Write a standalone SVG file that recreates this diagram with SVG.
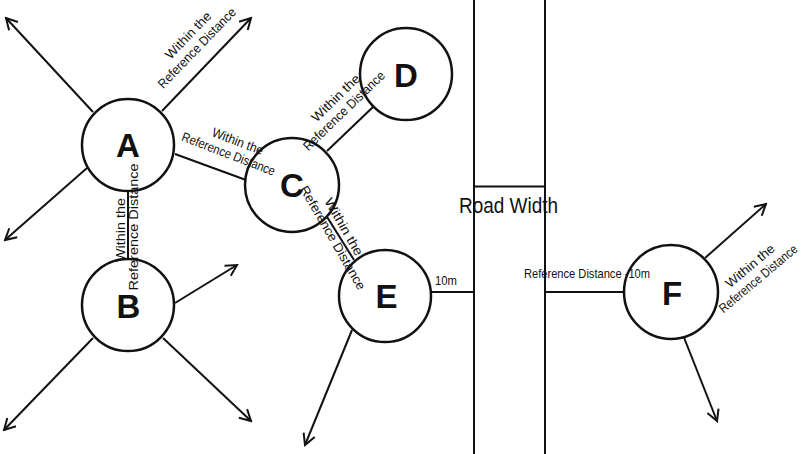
<svg xmlns="http://www.w3.org/2000/svg" width="812" height="454" viewBox="0 0 812 454">
<defs>
<style>
.node{fill:#fff;stroke:#111;stroke-width:2.5}
.ltr{font-family:"Liberation Sans",Arial,sans-serif;font-weight:bold;font-size:33px;fill:#111;text-anchor:middle}
.ln{stroke:#111;stroke-width:2;fill:none}
.arw{stroke:#111;stroke-width:2;fill:none;marker-end:url(#arr)}
.lbl{font-family:"Liberation Sans",Arial,sans-serif;font-size:13px;fill:#111;text-anchor:middle}
.road{stroke:#111;stroke-width:2;fill:none}
</style>
<marker id="arr" viewBox="0 0 14 14" refX="12" refY="7" markerWidth="14" markerHeight="14" markerUnits="userSpaceOnUse" orient="auto">
<path d="M1,1 L12,7 L1,13" stroke="#111" stroke-width="2" fill="none"/>
</marker>
</defs>
<rect width="812" height="454" fill="#fff"/>
<g id="road">
<line class="road" x1="474" y1="0" x2="474" y2="454"/>
<line class="road" x1="545" y1="0" x2="545" y2="454"/>
<line class="road" x1="474" y1="186.5" x2="545" y2="186.5"/>
<text x="459" y="213" font-family="Liberation Sans,Arial,sans-serif" font-size="22" fill="#111" textLength="99" lengthAdjust="spacingAndGlyphs">Road Width</text>
</g>
<g id="connectors">
<line class="arw" x1="93" y1="112" x2="6" y2="18"/>
<line class="arw" x1="162" y1="111" x2="251" y2="18"/>
<line class="arw" x1="87" y1="168" x2="5" y2="240"/>
<line class="ln" x1="128" y1="190" x2="128" y2="260"/>
<line class="ln" x1="175" y1="154" x2="246" y2="180"/>
<line class="arw" x1="175" y1="303" x2="237" y2="265"/>
<line class="arw" x1="93" y1="338" x2="4" y2="430"/>
<line class="arw" x1="163" y1="338" x2="251" y2="421"/>
<line class="ln" x1="327" y1="151" x2="373" y2="107"/>
<line class="ln" x1="324" y1="212" x2="354" y2="260"/>
<line class="arw" x1="352" y1="330" x2="305" y2="445"/>
<line class="ln" x1="432" y1="292" x2="474" y2="292"/>
<line class="ln" x1="545" y1="292" x2="625" y2="292"/>
<line class="arw" x1="705" y1="258" x2="766" y2="204"/>
<line class="arw" x1="683" y1="335" x2="717" y2="421"/>
</g>
<g id="node-A"><circle class="node" cx="128" cy="145" r="46"/><text class="ltr" x="128" y="157">A</text></g>
<g id="node-B"><circle class="node" cx="128" cy="305" r="46"/><text class="ltr" x="128.5" y="318">B</text></g>
<g id="node-C"><circle class="node" cx="292" cy="185" r="47"/><text class="ltr" x="292" y="197">C</text></g>
<g id="node-D"><circle class="node" cx="406" cy="74" r="46"/><text class="ltr" x="406" y="87">D</text></g>
<g id="node-E"><circle class="node" cx="385" cy="296" r="46"/><text class="ltr" x="386.5" y="308">E</text></g>
<g id="node-F"><circle class="node" cx="671" cy="292" r="47"/><text class="ltr" x="672" y="305">F</text></g>
<g id="labels">
<g transform="translate(200,51) rotate(-46)"><text class="lbl" x="3" y="-15" textLength="60" lengthAdjust="spacingAndGlyphs">Within the</text><text class="lbl" x="0" y="0" textLength="106" lengthAdjust="spacingAndGlyphs">Reference Distance</text></g>
<g transform="translate(227,158) rotate(21)"><text class="lbl" x="4" y="-15" textLength="54" lengthAdjust="spacingAndGlyphs">Within the</text><text class="lbl" x="0" y="0" textLength="99" lengthAdjust="spacingAndGlyphs">Reference Distance</text></g>
<g transform="translate(138,227) rotate(-90)"><text class="lbl" x="-3" y="-13" font-size="14" textLength="64" lengthAdjust="spacingAndGlyphs">Within the</text><text class="lbl" x="0" y="0" font-size="14" textLength="127" lengthAdjust="spacingAndGlyphs">Reference Distance</text></g>
<g transform="translate(347,114) rotate(-44)"><text class="lbl" x="3" y="-15" textLength="62" lengthAdjust="spacingAndGlyphs">Within the</text><text class="lbl" x="0" y="0" textLength="108" lengthAdjust="spacingAndGlyphs">Reference Distance</text></g>
<g transform="translate(329,240) rotate(60)"><text class="lbl" x="-4" y="-15" textLength="64" lengthAdjust="spacingAndGlyphs">Within the</text><text class="lbl" x="0" y="0" textLength="118" lengthAdjust="spacingAndGlyphs">Reference Distance</text></g>
<g transform="translate(761,282) rotate(-40)"><text class="lbl" x="2" y="-15" textLength="60" lengthAdjust="spacingAndGlyphs">Within the</text><text class="lbl" x="0" y="0" textLength="98" lengthAdjust="spacingAndGlyphs">Reference Distance</text></g>
<text x="435" y="285" font-family="Liberation Sans,Arial,sans-serif" font-size="13" fill="#111" textLength="22" lengthAdjust="spacingAndGlyphs">10m</text>
<text x="524" y="278" font-family="Liberation Sans,Arial,sans-serif" font-size="13" fill="#111" textLength="126" lengthAdjust="spacingAndGlyphs">Reference Distance -10m</text>
</g>
</svg>
